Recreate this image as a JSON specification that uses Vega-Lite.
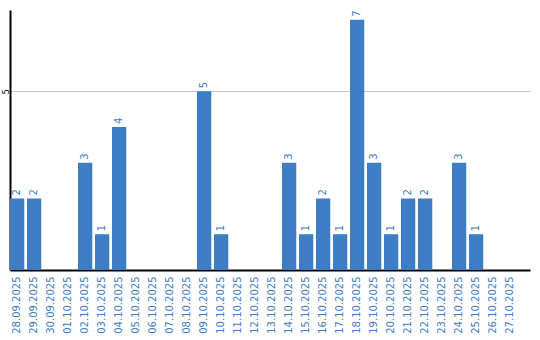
{
  "$schema": "https://vega.github.io/schema/vega-lite/v6.json",
  "autosize": "none",
  "width": 520,
  "height": 260,
  "padding": {"left": 10, "top": 10, "right": 10, "bottom": 70},
  "background": "white",
  "config": {"view": {"stroke": null}, "font": "DejaVu Sans"},
  "data": {"values": [
    {"date": "28.09.2025", "count": 2},
    {"date": "29.09.2025", "count": 2},
    {"date": "30.09.2025", "count": 0},
    {"date": "01.10.2025", "count": 0},
    {"date": "02.10.2025", "count": 3},
    {"date": "03.10.2025", "count": 1},
    {"date": "04.10.2025", "count": 4},
    {"date": "05.10.2025", "count": 0},
    {"date": "06.10.2025", "count": 0},
    {"date": "07.10.2025", "count": 0},
    {"date": "08.10.2025", "count": 0},
    {"date": "09.10.2025", "count": 5},
    {"date": "10.10.2025", "count": 1},
    {"date": "11.10.2025", "count": 0},
    {"date": "12.10.2025", "count": 0},
    {"date": "13.10.2025", "count": 0},
    {"date": "14.10.2025", "count": 3},
    {"date": "15.10.2025", "count": 1},
    {"date": "16.10.2025", "count": 2},
    {"date": "17.10.2025", "count": 1},
    {"date": "18.10.2025", "count": 7},
    {"date": "19.10.2025", "count": 3},
    {"date": "20.10.2025", "count": 1},
    {"date": "21.10.2025", "count": 2},
    {"date": "22.10.2025", "count": 2},
    {"date": "23.10.2025", "count": 0},
    {"date": "24.10.2025", "count": 3},
    {"date": "25.10.2025", "count": 1},
    {"date": "26.10.2025", "count": 0},
    {"date": "27.10.2025", "count": 0}
  ]},
  "encoding": {
    "x": {
      "field": "date", "type": "ordinal", "sort": null,
      "scale": {"paddingInner": 0.16, "paddingOuter": 0.375, "align": 0},
      "axis": {
        "title": null, "labelAngle": -90, "labelAlign": "right", "labelBaseline": "middle",
        "labelColor": "#3c7dc4", "labelFontSize": 10, "labelPadding": 6, "ticks": false,
        "domainColor": "#000000", "domainWidth": 2, "grid": false
      }
    },
    "y": {
      "field": "count", "type": "quantitative",
      "scale": {"domain": [0, 7.27], "nice": false, "zero": true},
      "axis": {
        "title": null, "values": [5], "ticks": false, "labelAngle": -90,
        "labelAlign": "center", "labelBaseline": "middle", "labelFontSize": 8, "labelColor": "#000000",
        "labelPadding": 4, "domainColor": "#000000", "domainWidth": 2,
        "grid": true, "gridColor": "#c8c8c8", "gridWidth": 1
      }
    }
  },
  "layer": [
    {"mark": {"type": "bar", "color": "#3c7dc4"}},
    {
      "transform": [{"filter": "datum.count > 0"}],
      "mark": {"type": "text", "angle": -90, "align": "left", "baseline": "middle", "dx": 3, "fontSize": 10, "color": "#3c7dc4"},
      "encoding": {"text": {"field": "count", "type": "quantitative"}}
    }
  ]
}
